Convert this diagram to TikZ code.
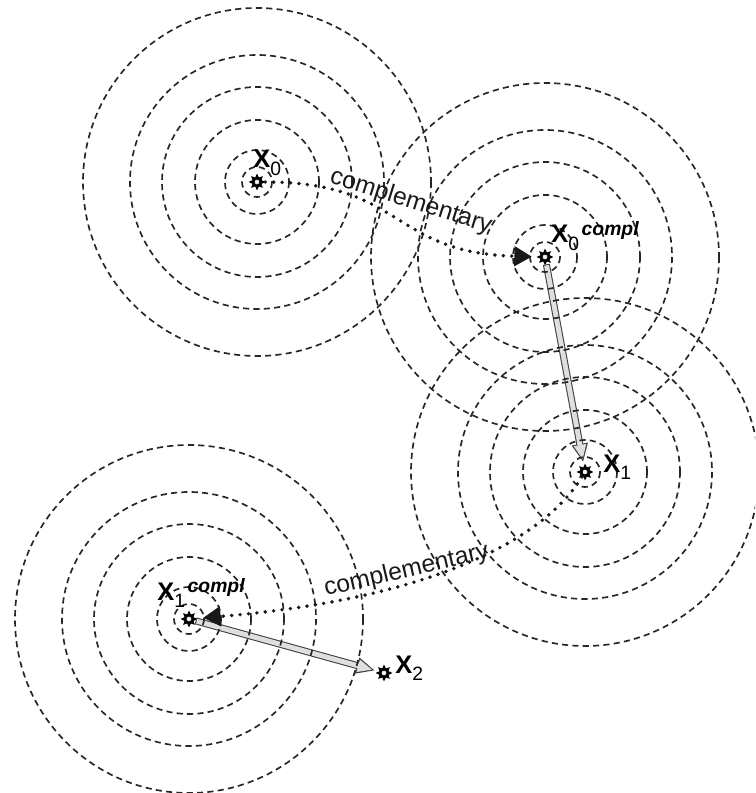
\documentclass[tikz,border=0pt]{standalone}
\usepackage{fontspec}
\setmainfont{Liberation Sans}
\usetikzlibrary{arrows.meta,shapes.geometric}

% point labels: bold X with a lowered index, optional "compl"
\newcommand\ptlab[1]{{\fontsize{14.5}{14}\selectfont\bfseries X}\raisebox{-4pt}{\fontsize{11}{11}\selectfont #1}}
\newcommand\complsup{\hspace{1.5pt}\raisebox{4pt}{\fontsize{11}{11}\selectfont\bfseries\itshape compl}}

\tikzset{
  ring/.style={draw=black!85, line width=0.95pt, dash pattern=on 3.5pt off 2.4pt},
  sunpt/.style={star, star points=8, star point ratio=1.7, minimum size=6.5pt,
    inner sep=0pt, draw=black, line width=1.3pt, fill=white},
  compldots/.style={draw=black!90, line width=2.2pt, line cap=round,
    dash pattern=on 0pt off 4.8pt, -{Triangle[length=10pt,width=11pt]}},
  stepbar/.style={draw=gray!25, line width=2.8pt, shorten <=1.4pt, shorten >=3.7pt,
    -{Triangle[length=8.4pt,width=6.6pt]},
    preaction={draw=black!75, line width=4pt, shorten <=0.8pt, shorten >=2.2pt,
      -{Triangle[length=10.5pt,width=8.6pt]}}},
  ptlbl/.style={anchor=base west, inner sep=0pt, text=black},
  comptext/.style={anchor=base, inner sep=0pt, text=black!90,
    font=\fontsize{14}{14}\selectfont}
}

\begin{document}
\begin{tikzpicture}[x=0.02cm,y=-0.02cm]
\path[use as bounding box, clip] (0,0) rectangle (755,793);

% search points
\node[sunpt] (x0)  at (257,182) {};
\node[sunpt] (x0c) at (545,257) {};
\node[sunpt] (x1)  at (585,472) {};
\node[sunpt] (x1c) at (189,619) {};
\node[sunpt] (x2)  at (384,673) {};

% gradient steps
\draw[stepbar] (x0c) -- (x1);
\draw[stepbar] (x1c) -- (x2);

% level sets
\foreach \c in {x0,x0c,x1,x1c}
  \foreach \r in {15,32,62,95,127,174}
    \draw[ring] (\c) circle[radius=\r];

% complementary jumps
\draw[compldots, shorten >=3pt] (x0) .. controls (405,182) and (390,253) .. (x0c);
\draw[compldots, shorten >=4pt] (x1) .. controls (540,545) and (420,600) .. (x1c);

\node[comptext, rotate=-17.5] (t0) at (409,208) {complementary};
\node[comptext, rotate=13] (t1) at (408,577) {complementary};

% labels
\node[ptlbl] (lx0)  at (253,168) {\ptlab{0}};
\node[ptlbl] (lx0c) at (551,243) {\ptlab{0}\complsup};
\node[ptlbl] (lx1)  at (603,472) {\ptlab{1}};
\node[ptlbl] (lx2)  at (395,673) {\ptlab{2}};
\node[ptlbl] (lx1c) at (157,600) {\ptlab{1}\complsup};
\end{tikzpicture}
\end{document}
